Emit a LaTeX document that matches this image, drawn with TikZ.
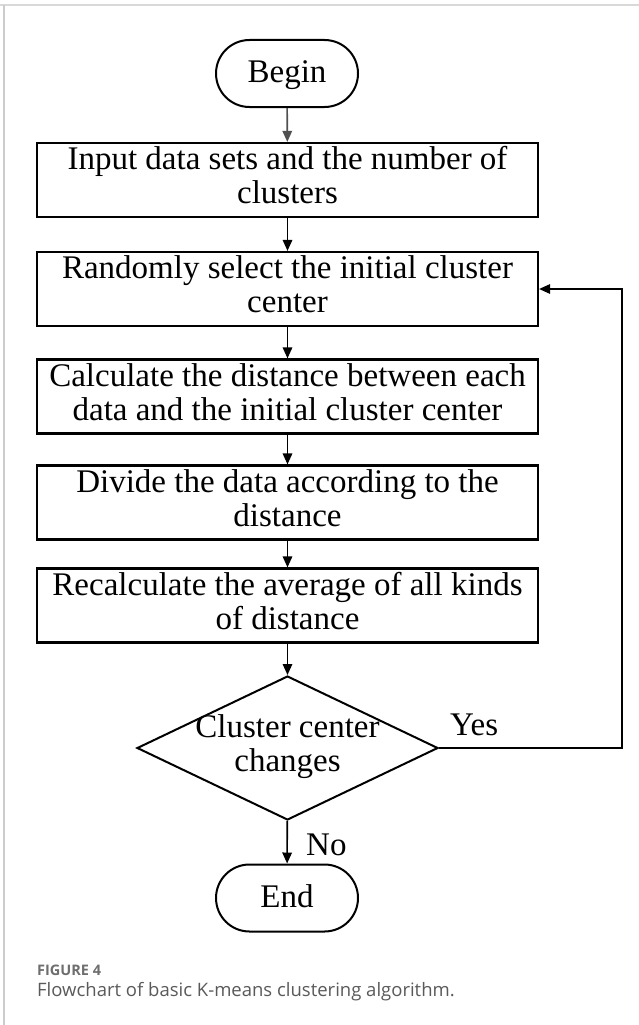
\documentclass[tikz,border=0pt]{standalone}
\usepackage{fontspec}
\setmainfont{Liberation Serif}
\newfontfamily\capfont{Open Sans}
\usetikzlibrary{shapes.geometric,shapes.misc,arrows.meta}
\definecolor{framegray}{HTML}{D9D9D9}
\definecolor{sidegray}{HTML}{CCCCCC}
\definecolor{figgray}{HTML}{6E6E6E}
\definecolor{capgray}{HTML}{5A5A5A}
\definecolor{startgray}{HTML}{505050}
\begin{document}
\begin{tikzpicture}[x=1pt,y=-1pt,
  serif33/.style={font=\fontsize{33}{34}\selectfont},
  flowbox/.style={draw=black, line width=2.2pt, rectangle, minimum width=501pt,
    minimum height=74pt, inner sep=0pt, align=center, serif33},
  terminal/.style={draw=black, line width=2pt, rounded rectangle,
    minimum width=142pt, minimum height=67pt, inner sep=0pt,
    text height=21pt, text depth=3pt, serif33},
  decision/.style={draw=black, line width=2pt, diamond,
    minimum width=301pt, minimum height=144pt, inner sep=0pt, serif33},
  flow/.style={line width=1.6pt, -{Triangle[length=11pt,width=9.5pt]}},
  tag/.style={inner sep=0pt, anchor=base west, serif33}
]
% page and frame
\fill[white] (0,0) rectangle (639,1025);
\useasboundingbox (0,0) rectangle (639,1025);
\draw[framegray, line width=2.5pt] (0,5) -- (639,5);
\draw[sidegray, line width=1.2pt] (4,5) -- (4,1025);

% steps of the algorithm
\node[terminal] (begin) at (287,73.5) {Begin};
\node[flowbox] (input) at (287.5,180) {\strut Input data sets and the number of\\clusters\strut};
\node[flowbox] (random) at (287.5,289) {\strut Randomly select the initial cluster\\center\strut};
\node[flowbox] (calc) at (287.5,396.5) {\strut Calculate the distance between each\\data and the initial cluster center\strut};
\node[flowbox] (divide) at (287.5,502.5) {\strut Divide the data according to the\\distance\strut};
\node[flowbox] (recalc) at (287.5,605.5) {\strut Recalculate the average of all kinds\\of distance\strut};
\node[decision] (check) at (287.5,748) {\makebox[0pt]{\begin{tabular}{@{}c@{}}Cluster center\\changes\end{tabular}}};
\node[terminal] (end) at (287,898) {End};

% branch labels
\node[tag] (yes) at (450,735) {Yes};
\node[tag] (no) at (306,855) {No};

% loop-back corner
\coordinate (loopA) at (622,748);
\coordinate (loopB) at (622,289);

% connectors
\draw[flow, startgray] (begin) -- (input);
\draw[flow] (input) -- (random);
\draw[flow] (random) -- (calc);
\draw[flow] (calc) -- (divide);
\draw[flow] (divide) -- (recalc);
\draw[flow] (recalc) -- (check);
\draw[flow] (check) -- (end);
\draw[flow] (check.east) -- (loopA) -- (loopB) -- (random.east);

% caption
\node[inner sep=0pt, anchor=base west, text=figgray,
  font=\capfont\bfseries\fontsize{14.5}{14.5}\selectfont] (figlabel) at (37,975) {FIGURE 4};
\node[inner sep=0pt, anchor=base west, text=capgray,
  font=\capfont\fontsize{18.5}{18.5}\selectfont] (caption) at (37,996)
  {Flowchart of basic K-means clustering algorithm.};
\end{tikzpicture}
\end{document}
